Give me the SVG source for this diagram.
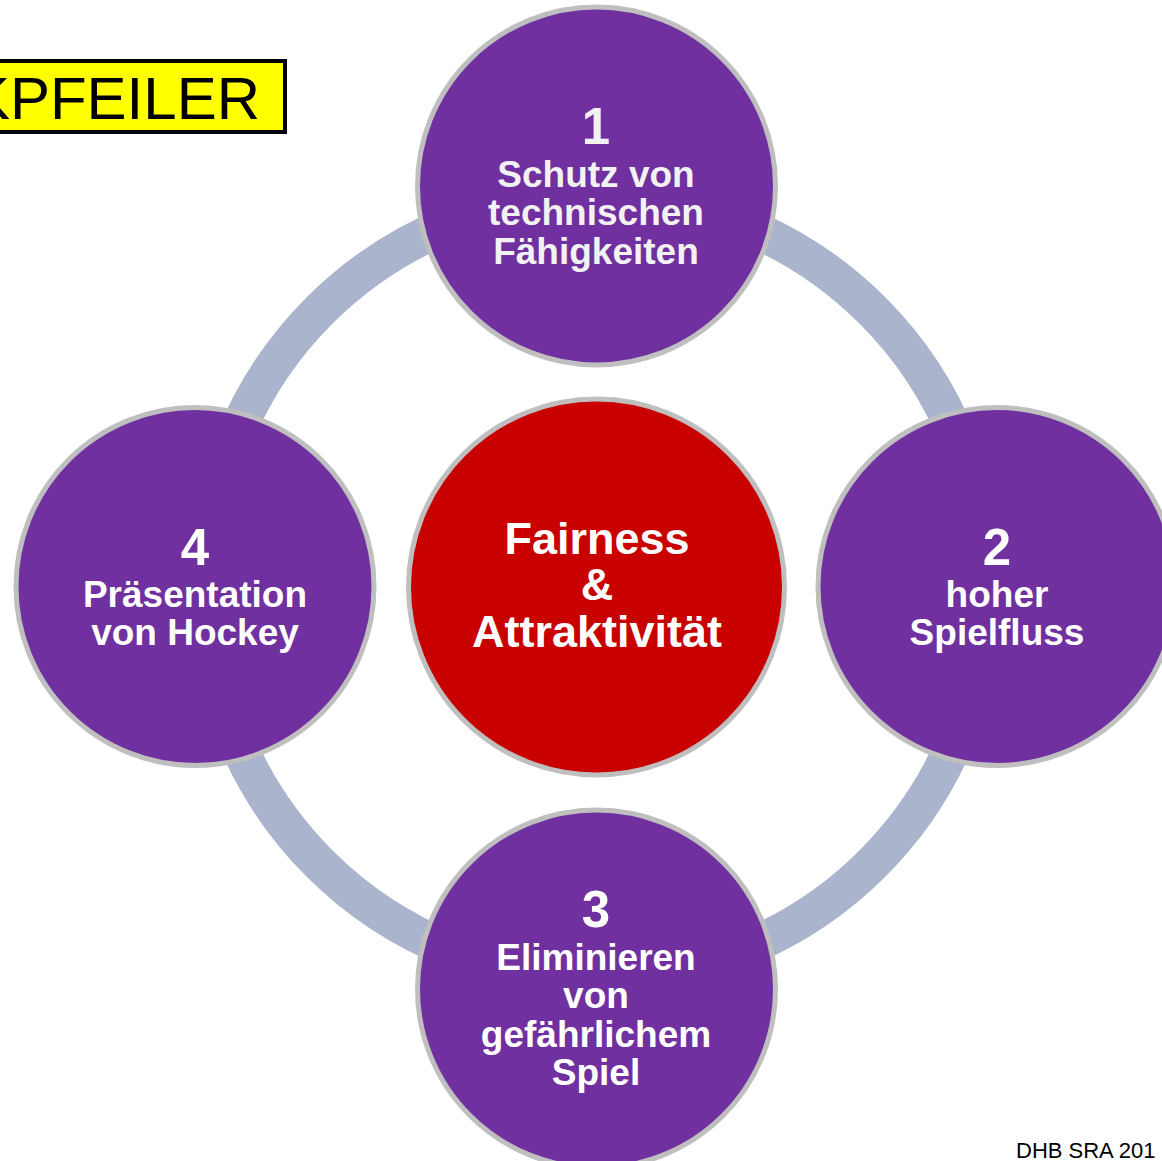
<svg xmlns="http://www.w3.org/2000/svg" width="1162" height="1161" viewBox="0 0 1162 1161">
<style>
.node{fill:#7030A0;stroke:#BFBFBF;stroke-width:5}
.core{fill:#C80000;stroke:#BFBFBF;stroke-width:5}
.t{font-family:"Liberation Sans",Arial,sans-serif;font-weight:bold;fill:#FFFFFF;text-anchor:middle}
.num{font-size:51px}
.lbl{font-size:37px}
.ctr{font-size:45px}
</style>
<rect x="0" y="0" width="1162" height="1161" fill="#FFFFFF"/>
<g id="connectors">
<circle cx="596" cy="587" r="391" fill="none" stroke="#ABB4CD" stroke-width="37"/>
</g>
<g id="title">
<rect x="-10" y="61" width="295" height="71" fill="#FFFF00" stroke="#000000" stroke-width="4"/>
<text x="260" y="119" font-family="'Liberation Sans',Arial,sans-serif" font-size="60" text-anchor="end" fill="#000000">KPFEILER</text>
</g>
<g id="node1">
<circle class="node" cx="596.5" cy="186" r="179"/>
<text class="t num" x="596" y="144" style="fill:#F2F2F2">1</text>
<text class="t lbl" x="596" y="187" style="fill:#F2F2F2">Schutz von</text>
<text class="t lbl" x="596" y="225" style="fill:#F2F2F2">technischen</text>
<text class="t lbl" x="596" y="264" style="fill:#F2F2F2">Fähigkeiten</text>
</g>
<g id="node2">
<circle class="node" cx="997" cy="586.5" r="179"/>
<text class="t num" x="997" y="565">2</text>
<text class="t lbl" x="997" y="607">hoher</text>
<text class="t lbl" x="997" y="645">Spielfluss</text>
</g>
<g id="node3">
<circle class="node" cx="596.5" cy="989" r="179"/>
<text class="t num" x="596" y="927">3</text>
<text class="t lbl" x="596" y="970">Eliminieren</text>
<text class="t lbl" x="596" y="1008">von</text>
<text class="t lbl" x="596" y="1047">gefährlichem</text>
<text class="t lbl" x="596" y="1085">Spiel</text>
</g>
<g id="node4">
<circle class="node" cx="195" cy="586.5" r="179"/>
<text class="t num" x="195" y="565">4</text>
<text class="t lbl" x="195" y="607">Präsentation</text>
<text class="t lbl" x="195" y="645">von Hockey</text>
</g>
<g id="center">
<circle class="core" cx="596.5" cy="587" r="188"/>
<text class="t ctr" x="597" y="554">Fairness</text>
<text class="t ctr" x="597" y="600">&amp;</text>
<text class="t ctr" x="597" y="647">Attraktivität</text>
</g>
<g id="footer">
<text x="1016" y="1158" font-family="'Liberation Sans',Arial,sans-serif" font-size="22" fill="#000000">DHB SRA 201</text>
</g>
</svg>
